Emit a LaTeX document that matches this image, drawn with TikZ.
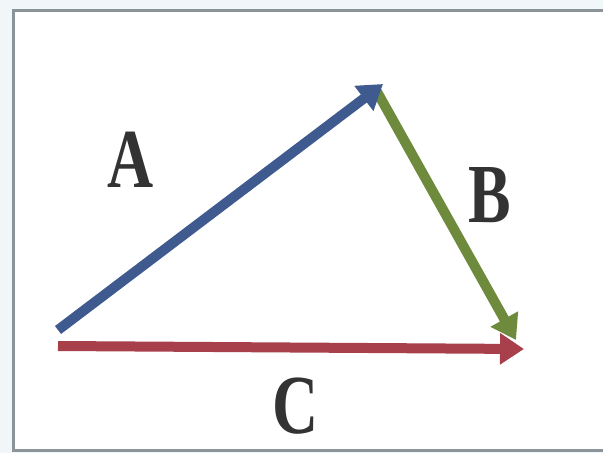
\documentclass[tikz,border=0pt]{standalone}
\usepackage{fontspec}
\setmainfont{Liberation Serif}
\usetikzlibrary{arrows.meta}
\definecolor{vblue}{HTML}{3F5A8E}
\definecolor{vgreen}{HTML}{6E8A3C}
\definecolor{vred}{HTML}{A8404C}
\definecolor{frame}{HTML}{8A9499}
\definecolor{bgout}{HTML}{F1F7F9}
\definecolor{txt}{HTML}{333333}
\begin{document}
\begin{tikzpicture}[x=1pt,y=-1pt,
  vec/.style={line width=10pt,-{Triangle[width=30pt,length=24pt]}},
  lbl/.style={font=\bfseries\fontsize{84}{86}\selectfont,text=txt,inner sep=0pt}]
\useasboundingbox (0,0) rectangle (603,453);
\fill[bgout] (0,0) rectangle (603,453);
\fill[white] (13,10) rectangle (603,450);
\draw[frame,line width=3pt] (603,10) -- (13,10) -- (13,450) -- (603,450);
\coordinate (a0) at (58,330);
\coordinate (a1) at (383,84);
\coordinate (b0) at (376,90);
\coordinate (b1) at (516,340);
\coordinate (c0) at (58,346);
\coordinate (c1) at (524,349);
\draw[vec,vred] (c0) -- (c1);
\draw[vec,vgreen] (b0) -- (b1);
\draw[vec,vblue] (a0) -- (a1);
\node[lbl] (la) at (131,160) {\scalebox{0.76}[1]{A}};
\node[lbl] (lb) at (490,195) {\scalebox{0.76}[1]{B}};
\node[lbl] (lc) at (296,406) {\scalebox{0.76}[1]{C}};
\end{tikzpicture}
\end{document}
